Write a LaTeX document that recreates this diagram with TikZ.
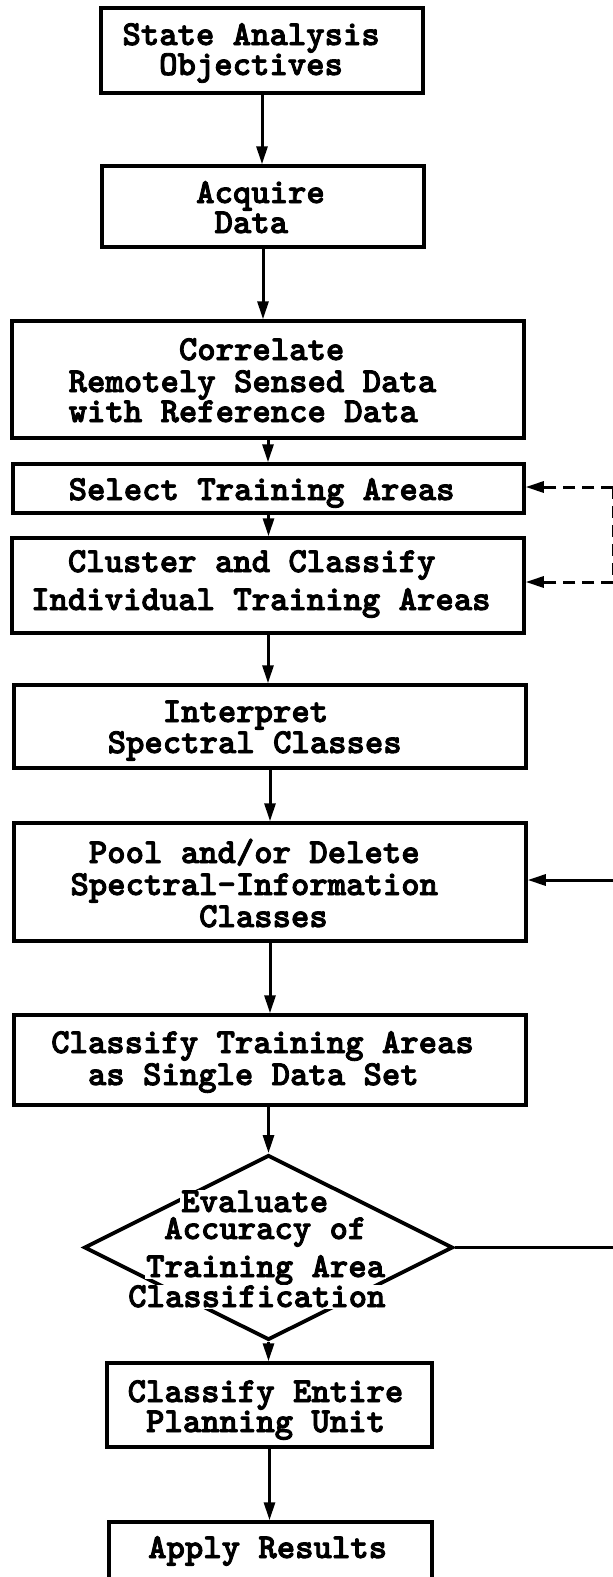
\documentclass[tikz,border=0pt]{standalone}
\usepackage{fontspec}
\usetikzlibrary{arrows.meta,shapes.geometric}
\newfontfamily\flowtt{lmmonolt10-bold.otf}[FakeBold=2.5]
\newcommand\flowfont{\flowtt\fontsize{35}{31.5}\selectfont}
\tikzset{
  stepbox/.style={draw, rectangle, line width=3.5pt, inner sep=0pt},
  steptext/.style={anchor=base west, inner sep=0pt, font=\flowfont},
  qtext/.style={anchor=base west, inner xsep=1pt, inner ysep=0pt,
                text height=22pt, text depth=2pt, fill=white, font=\flowfont},
  decision/.style={draw, diamond, line width=3.8pt, inner sep=0pt},
  flow/.style={line width=3pt, -{Triangle[length=18pt,width=11pt]}},
  dashflow/.style={flow, dash pattern=on 12pt off 7pt},
}
\begin{document}
\begin{tikzpicture}[x=1pt,y=-1pt]
\fill[white] (0,0) rectangle (613,1577);
\useasboundingbox (0,0) rectangle (613,1577);

% process boxes
\node[stepbox, minimum width=322pt, minimum height=85pt]  (s1)  at (262,50.5)   {};
\node[stepbox, minimum width=322pt, minimum height=81pt]  (s2)  at (263,206.5)  {};
\node[stepbox, minimum width=512pt, minimum height=117pt] (s3)  at (268,379.5)  {};
\node[stepbox, minimum width=511pt, minimum height=49pt]  (s4)  at (268.5,488.5){};
\node[stepbox, minimum width=512pt, minimum height=95pt]  (s5)  at (268,585.5)  {};
\node[stepbox, minimum width=512pt, minimum height=83pt]  (s6)  at (270,726.5)  {};
\node[stepbox, minimum width=512pt, minimum height=118pt] (s7)  at (270,882)    {};
\node[stepbox, minimum width=512pt, minimum height=90pt]  (s8)  at (270,1060)   {};
\node[decision, minimum width=369pt, minimum height=185pt] (ev) at (268.5,1247.5) {};
\node[stepbox, minimum width=325pt, minimum height=84pt]  (s9)  at (269.5,1405) {};
\node[stepbox, minimum width=323pt, minimum height=60pt]  (s10) at (270.5,1552) {};

% box texts, typed line by line
\node[steptext] (s1a) at (122.3,45)  {State Analysis};
\node[steptext] (s1b) at (159.0,75)  {Objectives};
\node[steptext] (s2a) at (196,203)   {Acquire};
\node[steptext] (s2b) at (214.4,233) {Data};
\node[steptext] (s3a) at (178.75,360) {Correlate};
\node[steptext] (s3b) at (68.5,392)  {Remotely Sensed Data};
\node[steptext] (s3c) at (68.5,422)  {with Reference Data};
\node[steptext] (s4a) at (68.5,500)  {Select Training Areas};
\node[steptext] (s5a) at (67.75,572) {Cluster and Classify};
\node[steptext] (s5b) at (31,610)    {Individual Training Areas};
\node[steptext] (s6a) at (162.6,722) {Interpret};
\node[steptext] (s6b) at (107.5,753) {Spectral Classes};
\node[steptext] (s7a) at (88.7,863)  {Pool and/or Delete};
\node[steptext] (s7b) at (70.3,895)  {Spectral-Information};
\node[steptext] (s7c) at (198.9,927) {Classes};
\node[steptext] (s8a) at (51,1053)   {Classify Training Areas};
\node[steptext] (s8b) at (87.75,1085) {as Single Data Set};
\node[steptext] (s9a) at (127.5,1402) {Classify Entire};
\node[steptext] (s9b) at (145.9,1432) {Planning Unit};
\node[steptext] (s10a) at (148,1558) {Apply Results};

% decision text, breaking the diamond outline where it overlaps
\node[qtext] (eva) at (180,1212) {Evaluate};
\node[qtext] (evb) at (163,1239) {Accuracy of};
\node[qtext] (evc) at (145,1277) {Training Area};
\node[qtext] (evd) at (127,1307) {Classification};

% main flow
\draw[flow] (s1.south) -- (s1.south |- s2.north);
\draw[flow] (s2.south) -- (s2.south |- s3.north);
\draw[flow] (s3.south) -- (s3.south |- s4.north);
\draw[flow] (s4.south) -- (s4.south |- s5.north);
\draw[flow] (s5.south) -- (s5.south |- s6.north);
\draw[flow] (s6.south) -- (s6.south |- s7.north);
\draw[flow] (s7.south) -- (s7.south |- s8.north);
\draw[flow] (ev.north |- s8.south) -- (ev.north);
\draw[flow] (ev.south) -- (ev.south |- s9.north);
\draw[flow] (s9.south) -- (s9.south |- s10.north);

% dashed return to training-area selection
\coordinate (dA) at (613.4,487);
\coordinate (dB) at (613.4,582);
\draw[line width=3pt, dash pattern=on 12pt off 7pt] (dA) -- (dB);
\draw[dashflow] (dA) -- (dA -| s4.east);
\draw[dashflow] (dB) -- (dB -| s5.east);

% return from evaluation to pooling
\coordinate (rA) at (617,880);
\coordinate (rB) at (617,1247.5);
\draw[flow] (ev.east) -- (rB) -- (rA) -- (rA -| s7.east);
\end{tikzpicture}
\end{document}
